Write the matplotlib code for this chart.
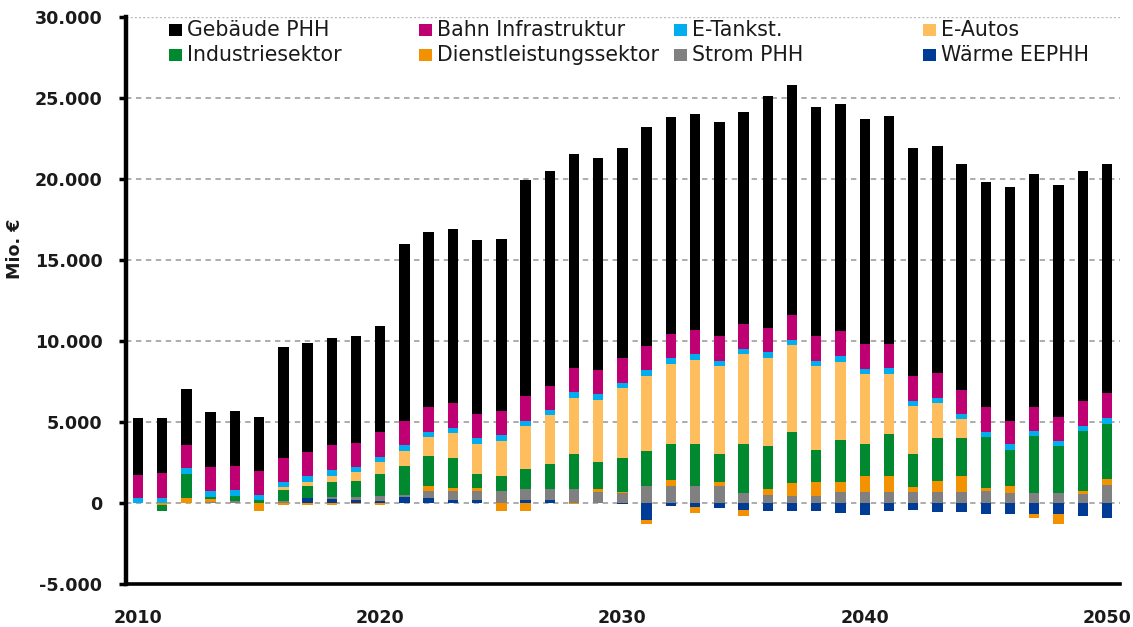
import numpy as np
import matplotlib
matplotlib.use("Agg")
import matplotlib.pyplot as plt
from matplotlib.patches import Rectangle
from matplotlib.ticker import FuncFormatter

years = list(range(2010, 2051))

waerme_eephh = [0, 0, 0, 0, 0, 0, 0, 300, 240, 200, 100, 350, 310, 160, 160, 0, 180, 180, 0, 0,
                -50, -1070, -200, -270, -310, -410, -510, -510, -510, -640, -760, -510, -450, -550, -550,
                -700, -700, -680, -700, -820, -900]
strom_phh = [0, 0, 0, 50, 100, 0, 100, 0, 140, 180, 300, 160, 450, 600, 600, 720, 680, 680, 860, 700,
             620, 1030, 1030, 1030, 1070, 620, 510, 450, 410, 660, 660, 660, 660, 660, 660,
             760, 600, 620, 620, 560, 1130]
dienstleistung = [0, -120, 290, 200, 0, -470, -150, -150, -100, -50, -120, 0, 270, 140, 140, -470, -500, 0, -50, 140,
                  80, -250, 410, -370, 210, -410, 350, 780, 870, 620, 990, 1030, 310, 720, 990,
                  140, 430, -270, -600, 200, 350]
industrie = [0, -350, 1480, 100, 350, 160, 720, 730, 900, 1000, 1390, 1790, 1850, 1880, 890, 930, 1240, 1550, 2160, 1670,
             2080, 2200, 2180, 2610, 1740, 3020, 2640, 3130, 2010, 2610, 1990, 2570, 2050, 2650, 2380,
             3190, 2240, 3500, 2880, 3700, 3400]
e_autos = [0, 0, 0, 0, 0, 0, 150, 250, 410, 510, 720, 930, 1210, 1520, 1850, 2200, 2630, 3020, 3460, 3870,
           4300, 4590, 4960, 5190, 5420, 5540, 5470, 5410, 5150, 4790, 4320, 3700, 2950, 2120, 1160,
           0, 0, 0, 0, 0, 0]
e_tankst = [290, 300, 370, 370, 330, 330, 330, 370, 330, 350, 350, 370, 310, 330, 370, 350, 350, 310, 350, 350,
            330, 410, 350, 350, 340, 290, 330, 290, 340, 370, 310, 350, 350, 330, 300,
            310, 370, 320, 310, 310, 350]
bahn_infra = [1460, 1550, 1460, 1480, 1520, 1470, 1460, 1480, 1540, 1440, 1500, 1480, 1500, 1540, 1480, 1500, 1510, 1500, 1480, 1500,
              1520, 1440, 1500, 1500, 1510, 1540, 1500, 1540, 1510, 1530, 1540, 1500, 1500, 1520, 1500,
              1500, 1440, 1500, 1520, 1550, 1540]
gebaeude_phh = [3480, 3400, 3440, 3420, 3360, 3370, 6890, 6750, 6630, 6650, 6540, 10920, 10800, 10730, 10710, 10600, 13310, 13260, 13190, 13070,
                12970, 13530, 13370, 13320, 13210, 13090, 14300, 14200, 14110, 14020, 13890, 14090, 14080, 14000, 13910,
                13900, 14420, 14360, 14270, 14180, 14130]

series = [
    ("Wärme EEPHH", waerme_eephh, "#003C96"),
    ("Strom PHH", strom_phh, "#808080"),
    ("Dienstleistungssektor", dienstleistung, "#F39200"),
    ("Industriesektor", industrie, "#00892F"),
    ("E-Autos", e_autos, "#FFBE5E"),
    ("E-Tankst.", e_tankst, "#00AEEF"),
    ("Bahn Infrastruktur", bahn_infra, "#BE0072"),
    ("Gebäude PHH", gebaeude_phh, "#000000"),
]
legend_order = ["Gebäude PHH", "Bahn Infrastruktur", "E-Tankst.", "E-Autos",
                "Industriesektor", "Dienstleistungssektor", "Strom PHH", "Wärme EEPHH"]
xtick_years = [2010, 2020, 2030, 2040, 2050]

plt.rcParams['font.family'] = ['DejaVu Sans']
fig = plt.figure(figsize=(11.33, 6.27), dpi=100)
ax = fig.add_axes([0.1112, 0.0686, 0.9885 - 0.1112, 0.9734 - 0.0686])

x = np.array(years, dtype=float)
pos_base = np.zeros(len(x))
neg_base = np.zeros(len(x))
colors = {}
for name, vals, col in series:
    v = np.array(vals, dtype=float)
    colors[name] = col
    p = np.where(v > 0, v, 0)
    n = np.where(v < 0, v, 0)
    ax.bar(x, p, bottom=pos_base, width=0.43, color=col, linewidth=0, zorder=3)
    ax.bar(x, n, bottom=neg_base, width=0.43, color=col, linewidth=0, zorder=3)
    pos_base += p
    neg_base += n

ax.set_ylim(-5000, 30000)
ax.set_xlim(2009.505, 2050.537)
ax.set_yticks(range(-5000, 30001, 5000))
ax.yaxis.set_major_formatter(FuncFormatter(lambda v, _: f"{int(v):,}".replace(",", ".")))
ax.set_xticks(xtick_years)
ax.set_xticklabels([str(y) for y in xtick_years])

for yv in range(0, 25001, 5000):
    ax.axhline(yv, color="#A6A6A6", linestyle=(0, (3, 2.5)), linewidth=1.3, zorder=1)
ax.axhline(30000, color="#BBBBBB", linestyle=(0, (1.5, 1.5)), linewidth=1.0, zorder=1)

for s in ["top", "right"]:
    ax.spines[s].set_visible(False)
ax.spines["left"].set_linewidth(3.2)
ax.spines["bottom"].set_linewidth(2.6)
ax.tick_params(axis="y", length=5, width=2.5, direction="out", pad=12, labelsize=12.6)
ax.tick_params(axis="x", length=0, pad=18, labelsize=12.6)
for lab in ax.get_yticklabels() + ax.get_xticklabels():
    lab.set_fontweight("bold")
    lab.set_color("#1a1a1a")

fig.text(15 / 1133, 1 - 249 / 627, "Mio. €", rotation=90, ha="center", va="center",
         fontsize=12.6, fontweight="bold", color="#1a1a1a")

# legend
col_x = [187, 437, 692, 941]
row_y = [30, 55]
for i, name in enumerate(legend_order):
    cx = col_x[i % 4]
    ry = row_y[i // 4]
    fig.patches.append(Rectangle(((cx - 18) / 1133, 1 - (ry + 6) / 627), 13 / 1133, 12 / 627,
                                 transform=fig.transFigure, facecolor=colors[name],
                                 edgecolor="none"))
    fig.text(cx / 1133, 1 - ry / 627, name, ha="left", va="center", fontsize=14.8, color="#1a1a1a")

fig.savefig("out.png", dpi=100)
